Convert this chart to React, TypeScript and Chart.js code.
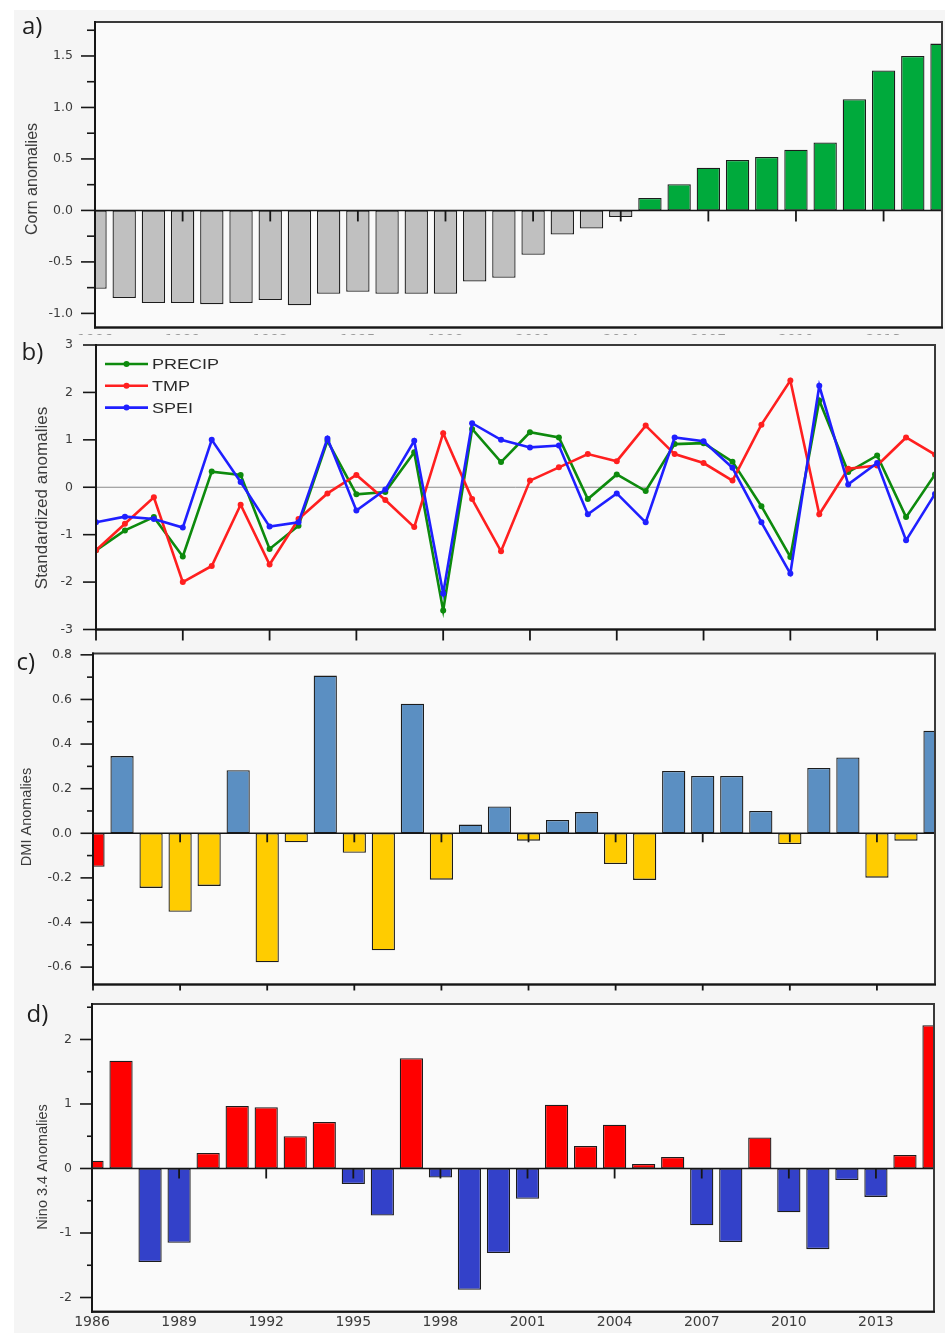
import { useEffect, useRef } from 'react';
import { Chart, registerables } from 'chart.js';

Chart.register(...registerables);

// ---------- data ----------
const years = [
  1986, 1987, 1988, 1989, 1990, 1991, 1992, 1993, 1994, 1995,
  1996, 1997, 1998, 1999, 2000, 2001, 2002, 2003, 2004, 2005,
  2006, 2007, 2008, 2009, 2010, 2011, 2012, 2013, 2014, 2015,
];
const yearTickStep = 3;

const cornAnomalies = [
  -0.76, -0.85, -0.9, -0.9, -0.91, -0.9, -0.87, -0.92, -0.81, -0.79,
  -0.81, -0.81, -0.81, -0.69, -0.655, -0.43, -0.235, -0.175, -0.065, 0.12,
  0.255, 0.415, 0.49, 0.52, 0.59, 0.66, 1.08, 1.36, 1.5, 1.62,
];

const seriesNames = ['PRECIP', 'TMP', 'SPEI'];
const precipAnomalies = [
  -1.33, -0.91, -0.63, -1.46, 0.33, 0.26, -1.3, -0.81, 0.98, -0.15,
  -0.1, 0.74, -2.6, 1.23, 0.53, 1.16, 1.05, -0.25, 0.27, -0.08,
  0.91, 0.93, 0.54, -0.4, -1.47, 1.83, 0.32, 0.67, -0.63, 0.27,
];
const tmpAnomalies = [
  -1.33, -0.77, -0.21, -2.0, -1.66, -0.37, -1.63, -0.67, -0.13, 0.26,
  -0.27, -0.84, 1.14, -0.25, -1.35, 0.14, 0.42, 0.7, 0.55, 1.3,
  0.7, 0.51, 0.14, 1.32, 2.25, -0.57, 0.39, 0.46, 1.05, 0.69,
];
const speiAnomalies = [
  -0.74, -0.62, -0.67, -0.85, 1.0, 0.11, -0.83, -0.74, 1.03, -0.49,
  -0.05, 0.98, -2.24, 1.35, 1.0, 0.84, 0.88, -0.57, -0.13, -0.74,
  1.05, 0.97, 0.41, -0.74, -1.82, 2.14, 0.06, 0.51, -1.12, -0.14,
];

const dmiAnomalies = [
  -0.15, 0.346, -0.245, -0.352, -0.236, 0.283, -0.578, -0.04, 0.707, -0.087,
  -0.525, 0.581, -0.208, 0.039, 0.12, -0.033, 0.06, 0.095, -0.138, -0.209,
  0.279, 0.257, 0.257, 0.1, -0.048, 0.293, 0.34, -0.199, -0.033, 0.46,
];
const dmiMarkedYears = [1986];

const nino34Anomalies = [
  0.12, 1.67, -1.45, -1.15, 0.24, 0.97, 0.95, 0.5, 0.72, -0.24,
  -0.73, 1.71, -0.14, -1.88, -1.31, -0.47, 0.99, 0.35, 0.68, 0.07,
  0.18, -0.88, -1.14, 0.48, -0.68, -1.25, -0.18, -0.44, 0.21, 2.22,
];

// value axes: range, labelled step, minor step, label decimals
const cornAxis = { min: -1.137, max: 1.83, step: 0.5, minor: 0.25, decimals: 1 };
const stdAxis = { min: -3, max: 3, step: 1, minor: 0, decimals: 0 };
const dmiAxis = { min: -0.678, max: 0.806, step: 0.2, minor: 0.1, decimals: 1 };
const ninoAxis = { min: -2.22, max: 2.55, step: 1, minor: 0.5, decimals: 0 };

// ---------- look ----------
const PAGE_W = 949;
const PANEL_BG = '#f5f5f5';
const PLOT_BG = '#fafafa';
const BG_LEFT = 14;
const BG_RIGHT = 945;
const AXIS_INK = '#161616';
const FRAME_INK = '#3a3a3a';
const LABEL_INK = '#3c3c3c';
const AXIS_FONT = "'DejaVu Sans', sans-serif";
const TEXT_FONT = "'Liberation Sans', Arial, sans-serif";
const LETTER_FONT = "'Open Sans', 'Noto Sans', sans-serif";

const CORN_NEG = '#c0c0c0';
const CORN_POS = '#00aa3c';
const BAR_EDGE = '#1c1c1c';
const PRECIP_COLOR = '#0d8a0d';
const TMP_COLOR = '#ff1f1f';
const SPEI_COLOR = '#1f1fff';
const DMI_POS = '#5b8fc2';
const DMI_NEG = '#ffcc00';
const DMI_MARK = '#ff0000';
const NINO_POS = '#ff0000';
const NINO_NEG = '#3341c9';

type Geometry = {
  top: number;
  height: number;
  area: { left: number; right: number; top: number; bottom: number };
};

type Decor = {
  letter: string;
  letterX: number;
  letterBase: number;
  title: string;
  titleX: number;
  titleY: number;
  titleSize: number;
  majorLen: number;
  minorLen: number;
  minorStep: number;
  zeroStyle: 'axis' | 'guide';
  zeroTickLen: number;
  bottomTickLen: number;
  legend: boolean;
  bgTop: number;
};

// page coordinates of each panel canvas and its plot area
const geomA: Geometry = { top: 0, height: 335, area: { left: 95, right: 942, top: 22, bottom: 328 } };
const geomB: Geometry = { top: 335, height: 311, area: { left: 96, right: 935, top: 345, bottom: 629.5 } };
const geomC: Geometry = { top: 646, height: 346, area: { left: 93, right: 935, top: 653.5, bottom: 984.5 } };
const geomD: Geometry = { top: 992, height: 341, area: { left: 92, right: 934, top: 1004, bottom: 1311.7 } };

function line(ctx: CanvasRenderingContext2D, x1: number, y1: number, x2: number, y2: number) {
  ctx.beginPath();
  ctx.moveTo(x1, y1);
  ctx.lineTo(x2, y2);
  ctx.stroke();
}

function decorPlugin(d: Decor, g: Geometry) {
  return {
    id: 'panelDecor',
    beforeDraw(chart: any) {
      const { ctx, width, height, chartArea: a } = chart;
      ctx.save();
      ctx.fillStyle = '#ffffff';
      ctx.fillRect(0, 0, width, height);
      const bgTop = Math.max(0, d.bgTop - g.top);
      ctx.fillStyle = PANEL_BG;
      ctx.fillRect(BG_LEFT, bgTop, BG_RIGHT - BG_LEFT, height - bgTop);
      ctx.fillStyle = PLOT_BG;
      ctx.fillRect(a.left, a.top, a.right - a.left, a.bottom - a.top);
      ctx.restore();
    },
    beforeDatasetsDraw(chart: any) {
      if (d.zeroStyle !== 'guide') return;
      const { ctx, chartArea: a, scales } = chart;
      const y0 = scales.y.getPixelForValue(0);
      ctx.save();
      ctx.strokeStyle = '#8a8a8a';
      ctx.lineWidth = 1;
      line(ctx, a.left, y0, a.right, y0);
      ctx.restore();
    },
    afterDatasetsDraw(chart: any) {
      const { ctx, chartArea: a, scales } = chart;
      const xs = scales.x;
      const ys = scales.y;
      ctx.save();
      ctx.lineCap = 'butt';

      // zero axis with its year ticks
      if (d.zeroStyle === 'axis') {
        const y0 = ys.getPixelForValue(0);
        ctx.strokeStyle = AXIS_INK;
        ctx.lineWidth = 1.6;
        line(ctx, a.left, y0, a.right, y0);
        ctx.lineWidth = 1.8;
        xs.ticks.forEach((t: any) => {
          if (t.value <= xs.min) return;
          const px = xs.getPixelForValue(t.value);
          line(ctx, px, y0, px, y0 + d.zeroTickLen);
        });
      }

      // frame
      ctx.strokeStyle = FRAME_INK;
      ctx.lineWidth = 2;
      ctx.strokeRect(a.left, a.top, a.right - a.left, a.bottom - a.top);
      ctx.strokeStyle = AXIS_INK;
      line(ctx, a.left, a.top - 1, a.left, a.bottom + 1);
      line(ctx, a.left - 1, a.bottom, a.right + 1, a.bottom);

      // value-axis ticks
      ctx.lineWidth = 1.6;
      ys.ticks.forEach((t: any) => {
        const py = ys.getPixelForValue(t.value);
        line(ctx, a.left - d.majorLen, py, a.left, py);
      });
      if (d.minorStep > 0) {
        const k0 = Math.ceil(ys.min / d.minorStep - 1e-9);
        const k1 = Math.floor(ys.max / d.minorStep + 1e-9);
        for (let k = k0; k <= k1; k++) {
          const v = k * d.minorStep;
          if (ys.ticks.some((t: any) => Math.abs(t.value - v) < 1e-6)) continue;
          const py = ys.getPixelForValue(v);
          line(ctx, a.left - d.minorLen, py, a.left, py);
        }
      }

      // year ticks below the plot
      if (d.bottomTickLen > 0) {
        ctx.lineWidth = 1.8;
        xs.ticks.forEach((t: any) => {
          const px = xs.getPixelForValue(t.value);
          line(ctx, px, a.bottom, px, a.bottom + d.bottomTickLen);
        });
      }

      // panel letter
      ctx.fillStyle = '#1e1e1e';
      ctx.font = `24px ${LETTER_FONT}`;
      ctx.textAlign = 'left';
      ctx.textBaseline = 'alphabetic';
      ctx.fillText(d.letter, d.letterX, d.letterBase - g.top);

      // value-axis title
      ctx.save();
      ctx.translate(d.titleX, d.titleY - g.top);
      ctx.rotate(-Math.PI / 2);
      ctx.fillStyle = LABEL_INK;
      ctx.font = `${d.titleSize}px ${TEXT_FONT}`;
      ctx.textAlign = 'center';
      ctx.textBaseline = 'middle';
      ctx.fillText(d.title, 0, 0);
      ctx.restore();

      // series key
      if (d.legend) {
        const colors = [PRECIP_COLOR, TMP_COLOR, SPEI_COLOR];
        seriesNames.forEach((name, i) => {
          const y = a.top + 19 + i * 21.8;
          ctx.strokeStyle = colors[i];
          ctx.lineWidth = 2.6;
          line(ctx, a.left + 9, y, a.left + 52, y);
          ctx.fillStyle = colors[i];
          ctx.beginPath();
          ctx.arc(a.left + 30.5, y, 3, 0, Math.PI * 2);
          ctx.fill();
          ctx.save();
          ctx.translate(a.left + 56, y + 1);
          ctx.scale(1.2, 1);
          ctx.fillStyle = '#2a2a2a';
          ctx.font = `15px ${TEXT_FONT}`;
          ctx.textAlign = 'left';
          ctx.textBaseline = 'middle';
          ctx.fillText(name, 0, 0);
          ctx.restore();
        });
      }
      ctx.restore();
    },
  };
}

// Label gaps are set through the (hidden) grid tick length so that the
// scales do not ask the layout for extra room around the plot area.
function baseOptions(
  g: Geometry,
  axis: { min: number; max: number; step: number; decimals: number },
  showYears: boolean,
  yearGap: number,
  valueGap: number,
) {
  return {
    responsive: false,
    animation: false as const,
    devicePixelRatio: 1,
    events: [] as any[],
    layout: {
      autoPadding: false,
      padding: { left: 0, right: PAGE_W - g.area.right, top: g.area.top - g.top, bottom: 0 },
    },
    plugins: { legend: { display: false }, tooltip: { enabled: false }, title: { display: false } },
    scales: {
      x: {
        type: 'linear' as const,
        min: years[0],
        max: years[years.length - 1],
        offset: false,
        grid: { display: false, drawTicks: true, tickLength: yearGap, offset: false },
        border: { display: false },
        ticks: {
          display: showYears,
          stepSize: yearTickStep,
          includeBounds: false,
          autoSkip: false,
          maxRotation: 0,
          minRotation: 0,
          padding: 0,
          color: LABEL_INK,
          font: { family: AXIS_FONT, size: 14 },
          callback: (v: any) => String(v),
        },
        afterFit: (s: any) => {
          s.height = g.top + g.height - g.area.bottom;
        },
      },
      y: {
        type: 'linear' as const,
        min: axis.min,
        max: axis.max,
        grid: { display: false, drawTicks: true, tickLength: valueGap },
        border: { display: false },
        ticks: {
          stepSize: axis.step,
          includeBounds: false,
          padding: 0,
          color: LABEL_INK,
          font: { family: AXIS_FONT, size: 12.5 },
          callback: (v: any) => Number(v).toFixed(axis.decimals),
        },
        afterFit: (s: any) => {
          s.width = g.area.left;
        },
      },
    },
  };
}

const points = (vals: number[]) => years.map((x, i) => ({ x, y: vals[i] }));

const barStyle = {
  borderColor: BAR_EDGE,
  borderWidth: 1.3,
  borderSkipped: false,
  barPercentage: 0.8,
  categoryPercentage: 1,
  clip: 0,
};

// a) corn yield anomalies
function makeCorn(canvas: HTMLCanvasElement) {
  return new Chart(canvas, {
    type: 'bar',
    data: {
      datasets: [
        {
          data: points(cornAnomalies),
          backgroundColor: (c: any) => (c.raw && c.raw.y < 0 ? CORN_NEG : CORN_POS),
          ...barStyle,
        } as any,
      ],
    },
    options: baseOptions(geomA, cornAxis, true, 4, 22) as any,
    plugins: [
      decorPlugin(
        {
          letter: 'a)', letterX: 22, letterBase: 33.5,
          title: 'Corn anomalies', titleX: 33, titleY: 179, titleSize: 16,
          majorLen: 14, minorLen: 8, minorStep: cornAxis.minor,
          zeroStyle: 'axis', zeroTickLen: 11, bottomTickLen: 0, legend: false, bgTop: 10,
        },
        geomA,
      ),
    ],
  });
}

// b) standardized climate anomalies
function makeStd(canvas: HTMLCanvasElement) {
  const lineStyle = (color: string, order: number) => ({
    borderColor: color,
    backgroundColor: color,
    borderWidth: 2.6,
    pointRadius: 3,
    pointBorderWidth: 0,
    pointBackgroundColor: color,
    tension: 0,
    order,
  });
  return new Chart(canvas, {
    type: 'line',
    data: {
      datasets: [
        { label: seriesNames[0], data: points(precipAnomalies), ...lineStyle(PRECIP_COLOR, 2) },
        { label: seriesNames[1], data: points(tmpAnomalies), ...lineStyle(TMP_COLOR, 1) },
        { label: seriesNames[2], data: points(speiAnomalies), ...lineStyle(SPEI_COLOR, 0) },
      ] as any,
    },
    options: baseOptions(geomB, stdAxis, false, 2, 23) as any,
    plugins: [
      decorPlugin(
        {
          letter: 'b)', letterX: 21.5, letterBase: 359.5,
          title: 'Standardized anomalies', titleX: 42.5, titleY: 498, titleSize: 17,
          majorLen: 13, minorLen: 0, minorStep: stdAxis.minor,
          zeroStyle: 'guide', zeroTickLen: 0, bottomTickLen: 11, legend: true, bgTop: 0,
        },
        geomB,
      ),
    ],
  });
}

// c) DMI anomalies
function makeDmi(canvas: HTMLCanvasElement) {
  return new Chart(canvas, {
    type: 'bar',
    data: {
      datasets: [
        {
          data: points(dmiAnomalies),
          backgroundColor: (c: any) => {
            if (!c.raw) return DMI_POS;
            if (dmiMarkedYears.includes(c.raw.x)) return DMI_MARK;
            return c.raw.y < 0 ? DMI_NEG : DMI_POS;
          },
          ...barStyle,
        } as any,
      ],
    },
    options: baseOptions(geomC, dmiAxis, false, 2, 21) as any,
    plugins: [
      decorPlugin(
        {
          letter: 'c)', letterX: 16.5, letterBase: 669.5,
          title: 'DMI Anomalies', titleX: 27, titleY: 817, titleSize: 14.5,
          majorLen: 12.5, minorLen: 6, minorStep: dmiAxis.minor,
          zeroStyle: 'axis', zeroTickLen: 9, bottomTickLen: 6, legend: false, bgTop: 0,
        },
        geomC,
      ),
    ],
  });
}

// d) Nino 3.4 anomalies
function makeNino(canvas: HTMLCanvasElement) {
  return new Chart(canvas, {
    type: 'bar',
    data: {
      datasets: [
        {
          data: points(nino34Anomalies),
          backgroundColor: (c: any) => (c.raw && c.raw.y < 0 ? NINO_NEG : NINO_POS),
          ...barStyle,
        } as any,
      ],
    },
    options: baseOptions(geomD, ninoAxis, true, 2.6, 20) as any,
    plugins: [
      decorPlugin(
        {
          letter: 'd)', letterX: 26.5, letterBase: 1021.5,
          title: 'Nino 3.4 Anomalies', titleX: 42.5, titleY: 1167, titleSize: 14.5,
          majorLen: 12, minorLen: 5, minorStep: ninoAxis.minor,
          zeroStyle: 'axis', zeroTickLen: 10, bottomTickLen: 0, legend: false, bgTop: 0,
        },
        geomD,
      ),
    ],
  });
}

function PanelCanvas({ geom, make }: { geom: Geometry; make: (c: HTMLCanvasElement) => Chart }) {
  const ref = useRef<HTMLCanvasElement | null>(null);
  useEffect(() => {
    if (!ref.current) return;
    const chart = make(ref.current);
    return () => chart.destroy();
  }, [make]);
  return (
    <canvas
      ref={ref}
      width={PAGE_W}
      height={geom.height}
      style={{ position: 'absolute', left: 0, top: geom.top, width: PAGE_W, height: geom.height, display: 'block' }}
    />
  );
}

export default function App() {
  return (
    <div style={{ position: 'absolute', left: 0, top: 0, width: PAGE_W, height: 1333, background: '#ffffff', overflow: 'hidden' }}>
      <PanelCanvas geom={geomA} make={makeCorn} />
      <PanelCanvas geom={geomB} make={makeStd} />
      <PanelCanvas geom={geomC} make={makeDmi} />
      <PanelCanvas geom={geomD} make={makeNino} />
    </div>
  );
}
